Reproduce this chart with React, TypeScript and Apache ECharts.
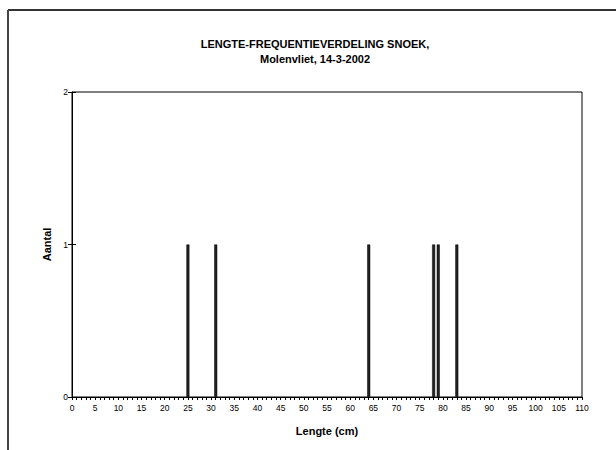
import React, { useEffect, useRef } from "react";
import * as echarts from "echarts";

const titleLines = ["LENGTE-FREQUENTIEVERDELING SNOEK,", "Molenvliet, 14-3-2002"];
const xAxisName = "Lengte (cm)";
const yAxisName = "Aantal";
const lengths = [25, 31, 64, 78, 79, 83];
const counts = [1, 1, 1, 1, 1, 1];
const xMin = 0;
const xMax = 110;
const xStep = 5;
const yMin = 0;
const yMax = 2;
const yStep = 1;

const FONT = "Liberation Sans, Arial, sans-serif";

export default function App() {
  const ref = useRef<HTMLDivElement>(null);
  useEffect(() => {
    if (!ref.current) return;
    const chart = echarts.init(ref.current, undefined, { renderer: "svg" });
    const data = lengths.map((l, i) => [l, counts[i]]);
    chart.setOption({
      animation: false,
      backgroundColor: "#fff",
      textStyle: { fontFamily: FONT },
      title: {
        text: titleLines.join("\n"),
        left: 310,
        textAlign: "center",
        top: 31,
        textStyle: { fontSize: 11, fontWeight: "bold", color: "#000", lineHeight: 15, fontFamily: FONT },
      },
      graphic: [
        { type: "line", shape: { x1: 8, y1: 10, x2: 616, y2: 10 }, style: { stroke: "#333", lineWidth: 2 } },
        { type: "line", shape: { x1: 8, y1: 10, x2: 8, y2: 450 }, style: { stroke: "#444", lineWidth: 2 } },
      ],
      grid: {
        left: 72,
        top: 92,
        width: 510,
        height: 305,
        show: true,
        borderColor: "#000",
        borderWidth: 1,
        backgroundColor: "transparent",
      },
      xAxis: {
        type: "value",
        min: xMin,
        max: xMax,
        interval: xStep,
        name: xAxisName,
        nameLocation: "middle",
        nameGap: 28,
        nameTextStyle: { fontSize: 11, fontWeight: "bold", color: "#000", fontFamily: FONT },
        axisLine: { show: true, lineStyle: { color: "#000", width: 1 } },
        axisTick: { show: true, length: 3, lineStyle: { color: "#000" } },
        minorTick: { show: true, splitNumber: 5, length: 3, lineStyle: { color: "#000" } },
        splitLine: { show: false },
        axisLabel: { fontSize: 8.5, color: "#000", margin: 6, fontFamily: FONT },
      },
      yAxis: [
        {
          type: "value",
          min: yMin,
          max: yMax,
          interval: yStep,
          name: yAxisName,
          nameLocation: "middle",
          nameGap: 19,
          nameTextStyle: { fontSize: 11, fontWeight: "bold", color: "#000", fontFamily: FONT },
          axisLine: { show: true, lineStyle: { color: "#000", width: 1 } },
          axisTick: { show: true, length: 4, lineStyle: { color: "#000" } },
          splitLine: { show: false },
          axisLabel: { fontSize: 8.5, color: "#000", margin: 4, fontFamily: FONT },
        },
        {
          type: "value",
          position: "left",
          min: yMin,
          max: yMax,
          interval: yStep,
          axisLine: { show: false },
          axisTick: { show: true, inside: true, length: 4, lineStyle: { color: "#000" } },
          splitLine: { show: false },
          axisLabel: { show: false },
        },
      ],
      series: [
        {
          type: "bar",
          data,
          barWidth: 3,
          itemStyle: { color: "#222", borderColor: "#000", borderWidth: 0.5 },
        },
      ],
    });
    return () => chart.dispose();
  }, []);
  return (
    <div
      ref={ref}
      style={{ position: "fixed", left: 0, top: 0, width: 616, height: 450 }}
    />
  );
}
